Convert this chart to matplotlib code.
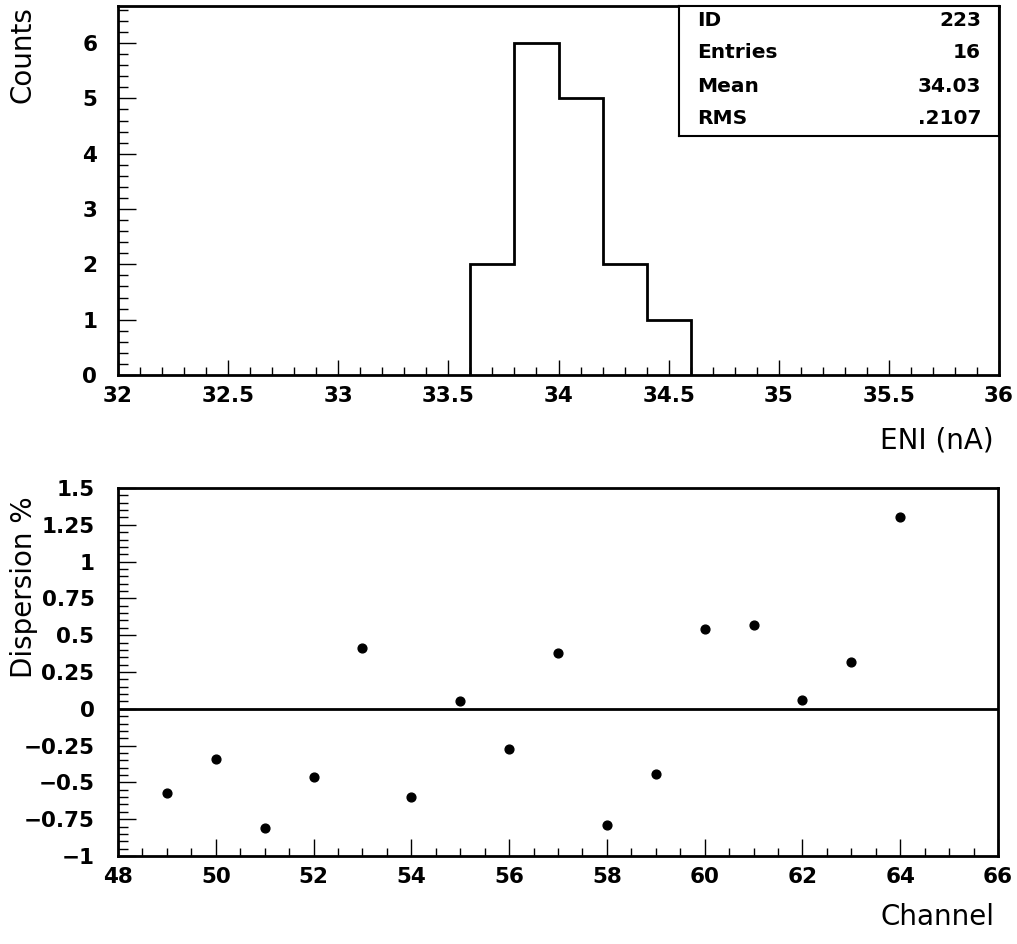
import matplotlib
matplotlib.use("Agg")
import matplotlib.pyplot as plt
from matplotlib.ticker import MultipleLocator, FuncFormatter

# histogram of ENI per channel
bin_edges = [33.6, 33.8, 34.0, 34.2, 34.4, 34.6]
counts = [2, 6, 5, 2, 1]

# dispersion per channel
channels = [49, 50, 51, 52, 53, 54, 55, 56, 57, 58, 59, 60, 61, 62, 63, 64]
dispersion = [-0.57, -0.34, -0.81, -0.46, 0.41, -0.60, 0.055, -0.27,
              0.38, -0.79, -0.44, 0.54, 0.57, 0.06, 0.315, 1.30]

stats_labels = ["ID", "Entries", "Mean", "RMS"]
stats_values = ["223", "16", "34.03", ".2107"]

plt.rcParams['font.family'] = 'DejaVu Sans'

W, H = 1017, 944
fig = plt.figure(figsize=(W / 100, H / 100), dpi=100)


def box(x0, y0, x1, y1):
    return [x0 / W, 1 - y1 / H, (x1 - x0) / W, (y1 - y0) / H]


def fmt(v, pos):
    return ("%g" % v).replace("-", "\u2212")


def style(ax, xpad, ypad, xlen):
    for sp in ax.spines.values():
        sp.set_linewidth(2)
    ax.tick_params(which='both', direction='in', top=False, right=False, width=1)
    ax.tick_params(axis='x', which='major', length=xlen, pad=xpad)
    ax.tick_params(axis='x', which='minor', length=xlen / 2)
    ax.tick_params(axis='y', which='major', length=13, pad=ypad)
    ax.tick_params(axis='y', which='minor', length=7)
    for lab in ax.get_xticklabels() + ax.get_yticklabels():
        lab.set_fontsize(15.5)
        lab.set_fontweight('bold')


ax1 = fig.add_axes(box(118, 6, 999, 375))
ax1.stairs(counts, bin_edges, color='black', linewidth=2)
ax1.set_xlim(32, 36)
ax1.set_ylim(0, 6.67)
ax1.xaxis.set_major_locator(MultipleLocator(0.5))
ax1.xaxis.set_minor_locator(MultipleLocator(0.1))
ax1.yaxis.set_major_locator(MultipleLocator(1))
ax1.yaxis.set_minor_locator(MultipleLocator(0.2))
ax1.xaxis.set_major_formatter(FuncFormatter(fmt))
style(ax1, 8, 15, 11)
fig.text(23 / W, 1 - 6 / H, "Counts", rotation=90, ha='center', va='top', fontsize=20)
fig.text(994 / W, 1 - 441 / H, "ENI (nA)", ha='right', va='center', fontsize=20)

# stats box
sb = fig.add_axes(box(679, 6, 999, 136))
sb.set_xticks([])
sb.set_yticks([])
sb.patch.set_facecolor('white')
for sp in sb.spines.values():
    sp.set_linewidth(1.5)
row_y = [21, 53, 86, 119]
for lab, val, yc in zip(stats_labels, stats_values, row_y):
    fig.text(697 / W, 1 - yc / H, lab, ha='left', va='center', fontsize=14.5, fontweight='bold')
    fig.text(981 / W, 1 - yc / H, val, ha='right', va='center', fontsize=14.5, fontweight='bold')

ax2 = fig.add_axes(box(118, 488, 998, 856))
ax2.scatter(channels, dispersion, s=40, color='black', zorder=3)
ax2.axhline(0, color='black', linewidth=2)
ax2.set_xlim(48, 66)
ax2.set_ylim(-1, 1.5)
ax2.xaxis.set_major_locator(MultipleLocator(2))
ax2.xaxis.set_minor_locator(MultipleLocator(0.5))
ax2.yaxis.set_major_locator(MultipleLocator(0.25))
ax2.yaxis.set_minor_locator(MultipleLocator(0.05))
ax2.yaxis.set_major_formatter(FuncFormatter(fmt))
style(ax2, 8, 17, 12)
fig.text(24 / W, 1 - 496 / H, "Dispersion %", rotation=90, ha='center', va='top', fontsize=20)
fig.text(994 / W, 1 - 917 / H, "Channel", ha='right', va='center', fontsize=20)

fig.savefig("out.png", dpi=100)
